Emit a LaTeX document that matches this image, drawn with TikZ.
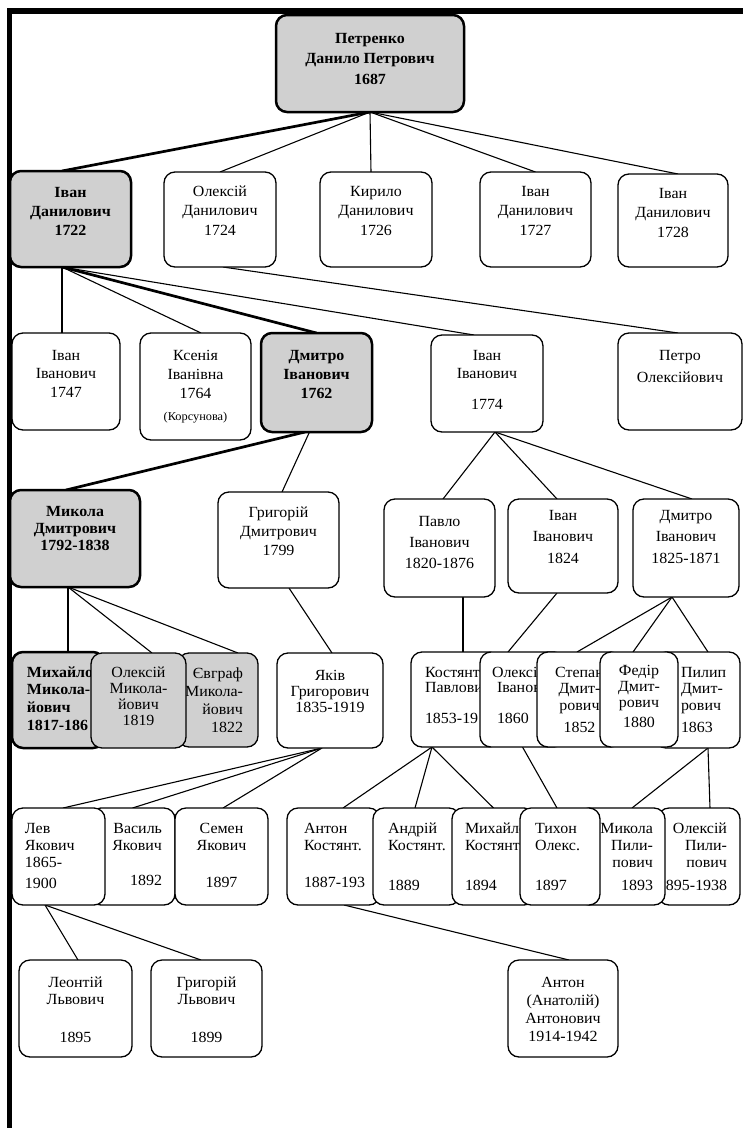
\documentclass[tikz,border=0pt]{standalone}
\usepackage{fontspec}
\setmainfont{Liberation Serif}[FakeStretch=1.03]
\usetikzlibrary{backgrounds}
\definecolor{boxgray}{RGB}{208,208,208}
\newcommand\famtxt[6]{\parbox[t][#2pt][t]{#1pt}{\hyphenpenalty=10000\exhyphenpenalty=10000\baselineskip=#4pt\relax #5\rule{0pt}{#3pt}#6\par}}
\newcommand\AL[1]{\raggedright\leftskip=#1pt\relax}
\newcommand\AR[1]{\raggedleft\rightskip=#1pt\relax}
\tikzset{
  fbox/.style={draw, rounded corners=11pt, inner sep=0pt, outer sep=0pt, fill=white,
    line width=1.3pt, anchor=north west, font=\fontsize{15.5}{18}\selectfont},
  gbox/.style={fbox, fill=boxgray},
  kbox/.style={fbox, fill=boxgray, line width=2.5pt, font=\fontsize{15.5}{18}\selectfont\bfseries},
  thn/.style={line width=1.1pt},
  thk/.style={line width=2.7pt},
  frame/.style={line width=5.5pt}
}
\begin{document}
\begin{tikzpicture}[x=1pt,y=-1pt]
\useasboundingbox (0,0) rectangle (743,1128);
\draw[frame] (7,11) -- (743,11);
\draw[frame] (9.5,8) -- (9.5,1128);
% row 1
\node[kbox] (R) at (276,15) {\famtxt{188}{97}{28}{20.5}{\centering}{Петренко\\Данило Петрович\\1687}};
% row 2
\node[kbox] (I1) at (10,171) {\famtxt{121}{96}{26}{19}{\centering}{Іван\\Данилович\\1722}};
\node[fbox] (O1) at (164,172) {\famtxt{112}{95}{24}{19.5}{\centering}{Олексій\\Данилович\\1724}};
\node[fbox] (K) at (320,172) {\famtxt{112}{95}{24}{19.5}{\centering}{Кирило\\Данилович\\1726}};
\node[fbox] (I27) at (480,172) {\famtxt{111}{95}{24}{19.5}{\centering}{Іван\\Данилович\\1727}};
\node[fbox] (I28) at (618,174) {\famtxt{110}{93}{24}{19.5}{\centering}{Іван\\Данилович\\1728}};
% row 3
\node[fbox] (A47) at (12,333) {\famtxt{108}{97}{27}{18.5}{\centering}{Іван\\Іванович\\1747}};
\node[fbox] (Ks) at (140,333) {\famtxt{111}{107}{27}{19}{\centering}{Ксенія\\Іванівна\\1764\\[3pt]{\fontsize{12}{13}\selectfont (Корсунова)}}};
\node[kbox] (Dm) at (261,333) {\famtxt{111}{99}{27}{19}{\centering}{Дмитро\\Іванович\\1762}};
\node[fbox] (I74) at (431,335) {\famtxt{112}{97}{25}{18}{\centering}{Іван\\Іванович\\[13pt]1774}};
\node[fbox] (Pe) at (618,333) {\famtxt{124}{97}{27}{22}{\centering}{Петро\\Олексійович}};
% row 4
\node[kbox] (Mk) at (10,490) {\famtxt{130}{97}{26}{17}{\centering}{Микола\\Дмитрович\\1792-1838}};
\node[fbox] (Gr) at (218,492) {\famtxt{121}{96}{25}{19}{\centering}{Григорій\\Дмитрович\\1799}};
\node[fbox] (Pa) at (384,499) {\famtxt{111}{98}{27}{21}{\centering}{Павло\\Іванович\\1820-1876}};
\node[fbox] (I24) at (508,499) {\famtxt{110}{94}{21}{21.5}{\centering}{Іван\\Іванович\\1824}};
\node[fbox] (D25) at (633,499) {\famtxt{106}{98}{21}{21.5}{\centering}{Дмитро\\Іванович\\1825-1871}};
% row 5 left
\node[kbox] (Mh) at (12,652) {\famtxt{92}{96}{25}{17.7}{\AL{15}}{Михайло\\Микола-\\йович\\1817-186}};
\node[gbox] (Ev) at (178,653) {\famtxt{80}{94}{25}{18.3}{\AR{15}}{Євграф\\Микола-\\йович\\1822}};
\node[gbox] (Ol) at (91,653) {\famtxt{95}{95}{24}{16}{\centering}{Олексій\\Микола-\\йович\\1819}};
\node[fbox] (Ya) at (277,653) {\famtxt{106}{95}{27}{16}{\centering}{Яків\\Григорович\\1835-1919}};
% row 5 right
\node[fbox] (Ko) at (411,652) {\famtxt{89}{95}{25}{15.5}{\AL{14}}{Костянтин\\Павлович\\[15.5pt]1853-19}};
\node[fbox] (Ox) at (480,652) {\famtxt{85}{95}{25}{15.5}{\AL{12}}{Олексій\\\hspace*{5pt}Іванович\\[15.5pt]\hspace*{5pt}1860}};
\node[fbox] (St) at (537,652) {\famtxt{85}{95}{25}{16.5}{\centering}{Степан\\Дмит-\\рович\\[5.5pt]1852}};
\node[fbox] (Pi) at (655,652) {\famtxt{85}{96}{25}{16.5}{\AL{26}}{Пилип\\Дмит-\\рович\\[5.5pt]1863}};
\node[fbox] (Fe) at (600,652) {\famtxt{78}{95}{23}{16}{\centering}{Федір\\Дмит-\\рович\\[4pt]1880}};
% row 6
\node[fbox] (Va) at (90,808) {\famtxt{85}{97}{25}{17}{\AR{13}}{Василь\\Якович\\[18pt]1892}};
\node[fbox] (Le) at (12,808) {\famtxt{93}{97}{25}{17}{\AL{13}}{Лев\\Якович\\1865-\\[4pt]1900}};
\node[fbox] (Se) at (175,808) {\famtxt{93}{97}{25}{17}{\centering}{Семен\\Якович\\[20pt]1897}};
\node[fbox] (AK) at (287,808) {\famtxt{93}{97}{25}{17}{\AL{17}}{Антон\\Костянт.\\[20pt]1887-193}};
\node[fbox] (An) at (373,808) {\famtxt{87}{97}{25}{17}{\AL{15}}{Андрій\\Костянт.\\[23pt]1889}};
\node[fbox] (MK) at (452,808) {\famtxt{83}{97}{25}{17}{\AL{13}}{Михайло\\Костянт.\\[23pt]1894}};
\node[fbox] (Op) at (658,808) {\famtxt{82}{97}{25}{17}{\AR{13}}{Олексій\\Пили-\\пович\\[6pt]1895-1938}};
\node[fbox] (Mp) at (578,808) {\famtxt{87}{97}{25}{17}{\AR{12}}{Микола\\Пили-\\пович\\[6pt]1893}};
\node[fbox] (Ti) at (520,808) {\famtxt{80}{97}{25}{17}{\AL{15}}{Тихон\\Олекс.\\[23pt]1897}};
% row 7
\node[fbox] (Lo) at (19,960) {\famtxt{113}{97}{27}{17}{\centering}{Леонтій\\Львович\\[21pt]1895}};
\node[fbox] (GL) at (151,960) {\famtxt{111}{97}{27}{17}{\centering}{Григорій\\Львович\\[21pt]1899}};
\node[fbox] (AA) at (508,960) {\famtxt{110}{97}{27}{18}{\centering}{Антон\\(Анатолій)\\Антонович\\1914-1942}};
% connectors
\begin{scope}[on background layer]
\draw[thk] (R.south) -- ([xshift=-8.5pt]I1.north);
\draw[thn] (R.south) -- (O1.north);
\draw[thn] (R.south) -- ([xshift=-5pt]K.north);
\draw[thn] (R.south) -- (I27.north);
\draw[thn] (R.south) -- ([xshift=5pt]I28.north);
\draw[thn] ([xshift=-8.5pt]I1.south) -- ([xshift=-4pt]A47.north);
\draw[thn] ([xshift=-8.5pt]I1.south) -- ([xshift=5.5pt]Ks.north);
\draw[thk] ([xshift=-8.5pt]I1.south) -- (Dm.north);
\draw[thn] ([xshift=-8.5pt]I1.south) -- ([xshift=-13pt]I74.north);
\draw[thn] ([xshift=3pt]O1.south) -- ([xshift=-2pt]Pe.north);
\draw[thk] ([xshift=-11.5pt]Dm.south) -- ([xshift=-9pt]Mk.north);
\draw[thn] ([xshift=-7pt]Dm.south) -- ([xshift=3.5pt]Gr.north);
\draw[thn] ([xshift=8pt]I74.south) -- ([xshift=3.5pt]Pa.north);
\draw[thn] ([xshift=8pt]I74.south) -- ([xshift=-6pt]I24.north);
\draw[thn] ([xshift=8pt]I74.south) -- ([xshift=6pt]D25.north);
\draw[thk] ([xshift=-7pt]Mk.south) -- ([xshift=10pt]Mh.north);
\draw[thn] ([xshift=-7pt]Mk.south) -- ([xshift=13.5pt]Ol.north);
\draw[thn] ([xshift=-7pt]Mk.south) -- ([xshift=20pt]Ev.north);
\draw[thn] ([xshift=10.5pt]Gr.south) -- ([xshift=2pt]Ya.north);
\draw[thn] ([xshift=23.5pt]Pa.south) -- ([xshift=7.5pt]Ko.north);
\draw[thn] ([xshift=-6pt]I24.south) -- ([xshift=-14.5pt]Ox.north);
\draw[thn] ([xshift=-14pt]D25.south) -- ([xshift=-2.5pt]St.north);
\draw[thn] ([xshift=-14pt]D25.south) -- ([xshift=-6pt]Fe.north);
\draw[thn] ([xshift=-14pt]D25.south) -- ([xshift=10.5pt]Pi.north);
\draw[thn] ([xshift=-8pt]Ya.south) -- ([xshift=4.5pt]Le.north);
\draw[thn] ([xshift=-8pt]Ya.south) -- (Va.north);
\draw[thn] ([xshift=-8pt]Ya.south) -- ([xshift=1.5pt]Se.north);
\draw[thn] ([xshift=-23.5pt]Ko.south) -- ([xshift=9.5pt]AK.north);
\draw[thn] ([xshift=-23.5pt]Ko.south) -- ([xshift=-1.5pt]An.north);
\draw[thn] ([xshift=-23.5pt]Ko.south) -- (MK.north);
\draw[thn] (Ox.south) -- ([xshift=-3pt]Ti.north);
\draw[thn] ([xshift=10.5pt]Pi.south) -- ([xshift=10.5pt]Mp.north);
\draw[thn] ([xshift=10.5pt]Pi.south) -- ([xshift=11pt]Op.north);
\draw[thn] ([xshift=-13.5pt]Le.south) -- ([xshift=2.5pt]Lo.north);
\draw[thn] ([xshift=-13.5pt]Le.south) -- ([xshift=-5.5pt]GL.north);
\draw[thn] ([xshift=10.5pt]AK.south) -- ([xshift=6pt]AA.north);
\end{scope}
\end{tikzpicture}
\end{document}
